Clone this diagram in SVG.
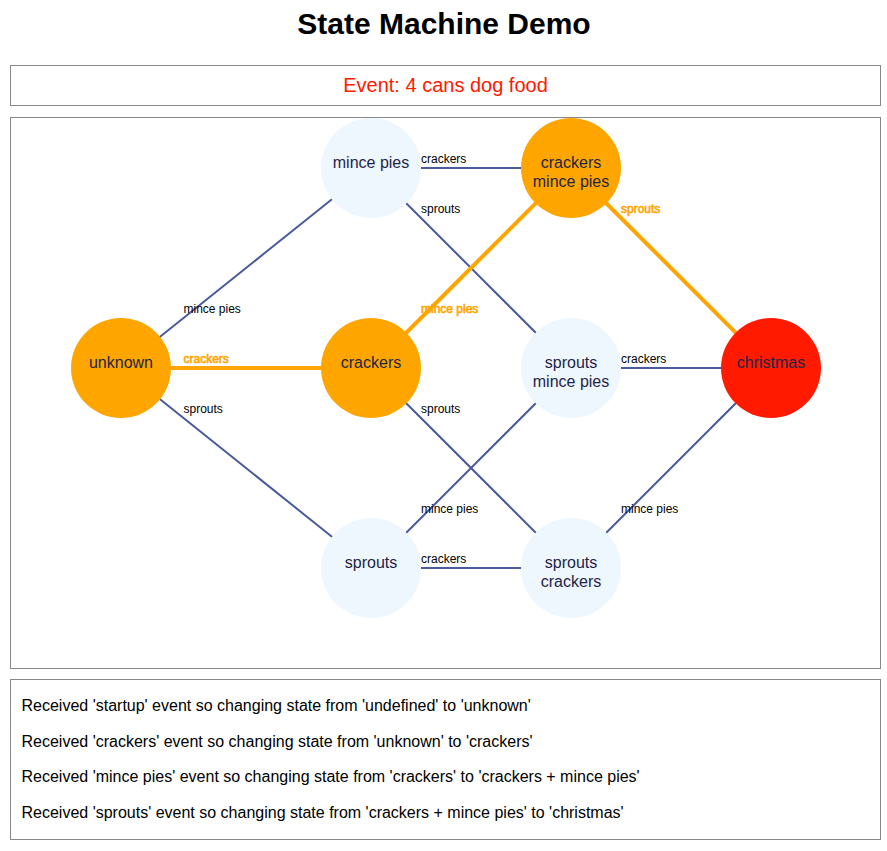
<svg xmlns="http://www.w3.org/2000/svg" width="887" height="851" viewBox="0 0 887 851">
<style>
text{font-family:"Liberation Sans",Arial,Helvetica,sans-serif}
.title{font-size:30px;font-weight:bold;fill:#000;text-anchor:middle}
.event{font-size:20px;fill:#ff1a00;text-anchor:middle}
.log{font-size:16px;fill:#000}
.box{fill:#fff;stroke:#888;stroke-width:1}
.edge{stroke:#4a5a9c;stroke-width:2;fill:none}
.edge.on{stroke:#ffa500;stroke-width:4}
.elabel{font-size:12px;fill:#000}
.elabel.on{fill:#ffa500;stroke:#ffa500;stroke-width:0.6}
.node circle{fill:#eef6fe}
.node.visited circle{fill:#ffa500}
.node.current circle{fill:#ff1a00}
.node text{font-size:16px;fill:#1e2547;text-anchor:middle}
</style>
<rect width="887" height="851" fill="#fff"/>
<text class="title" x="444" y="33.5">State Machine Demo</text>
<rect class="box" x="10.5" y="65.5" width="870" height="40"/>
<text class="event" x="445.5" y="91.5">Event: 4 cans dog food</text>
<rect class="box" x="10.5" y="117.5" width="870" height="551"/>
<g id="connectors">
<line class="edge" x1="121" y1="368" x2="371" y2="168"/>
<line class="edge on" x1="121" y1="368" x2="371" y2="368"/>
<line class="edge" x1="121" y1="368" x2="371" y2="568"/>
<line class="edge" x1="371" y1="168" x2="571" y2="168"/>
<line class="edge" x1="371" y1="168" x2="571" y2="368"/>
<line class="edge on" x1="371" y1="368" x2="571" y2="168"/>
<line class="edge" x1="371" y1="368" x2="571" y2="568"/>
<line class="edge" x1="371" y1="568" x2="571" y2="368"/>
<line class="edge" x1="371" y1="568" x2="571" y2="568"/>
<line class="edge on" x1="571" y1="168" x2="771" y2="368"/>
<line class="edge" x1="571" y1="368" x2="771" y2="368"/>
<line class="edge" x1="571" y1="568" x2="771" y2="368"/>
<text class="elabel" x="183.5" y="313">mince pies</text>
<text class="elabel on" x="183.5" y="363">crackers</text>
<text class="elabel" x="183.5" y="413">sprouts</text>
<text class="elabel" x="421" y="163">crackers</text>
<text class="elabel" x="421" y="213">sprouts</text>
<text class="elabel on" x="421" y="313">mince pies</text>
<text class="elabel" x="421" y="413">sprouts</text>
<text class="elabel" x="421" y="513">mince pies</text>
<text class="elabel" x="421" y="563">crackers</text>
<text class="elabel on" x="621" y="213">sprouts</text>
<text class="elabel" x="621" y="363">crackers</text>
<text class="elabel" x="621" y="513">mince pies</text>
</g>
<g id="node-mince-pies" class="node"><circle cx="371" cy="168" r="50"/><text x="371" y="167.5">mince pies</text></g>
<g id="node-crackers-mince-pies" class="node visited"><circle cx="571" cy="168" r="50"/><text x="571" y="167.5">crackers</text><text x="571" y="187">mince pies</text></g>
<g id="node-unknown" class="node visited"><circle cx="121" cy="368" r="50"/><text x="121" y="367.5">unknown</text></g>
<g id="node-crackers" class="node visited"><circle cx="371" cy="368" r="50"/><text x="371" y="367.5">crackers</text></g>
<g id="node-sprouts-mince-pies" class="node"><circle cx="571" cy="368" r="50"/><text x="571" y="367.5">sprouts</text><text x="571" y="387">mince pies</text></g>
<g id="node-christmas" class="node current"><circle cx="771" cy="368" r="50"/><text x="771" y="367.5">christmas</text></g>
<g id="node-sprouts" class="node"><circle cx="371" cy="568" r="50"/><text x="371" y="567.5">sprouts</text></g>
<g id="node-sprouts-crackers" class="node"><circle cx="571" cy="568" r="50"/><text x="571" y="567.5">sprouts</text><text x="571" y="587">crackers</text></g>
<rect class="box" x="10.5" y="679.5" width="870" height="160"/>
<text class="log" x="21.5" y="711">Received 'startup' event so changing state from 'undefined' to 'unknown'</text>
<text class="log" x="21.5" y="746.5">Received 'crackers' event so changing state from 'unknown' to 'crackers'</text>
<text class="log" x="21.5" y="782">Received 'mince pies' event so changing state from 'crackers' to 'crackers + mince pies'</text>
<text class="log" x="21.5" y="817.5">Received 'sprouts' event so changing state from 'crackers + mince pies' to 'christmas'</text>
</svg>
